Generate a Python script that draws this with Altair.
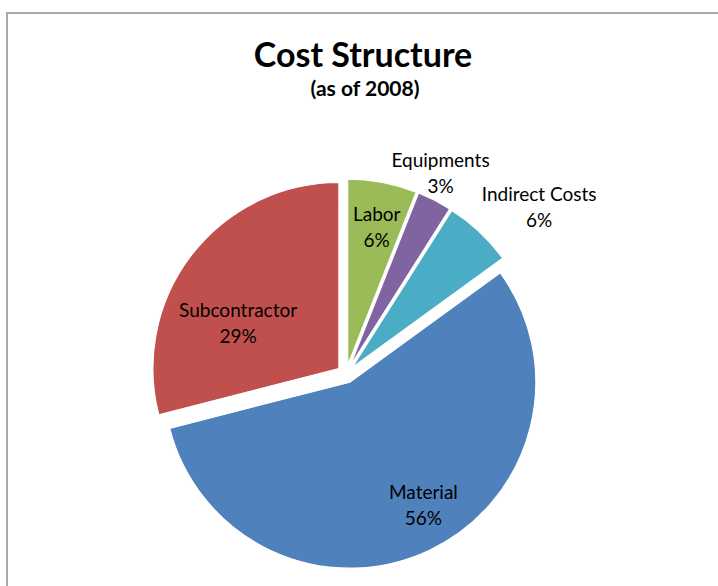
import math
import altair as alt
import pandas as pd

# ---- data ----
categories = ["Labor", "Equipments", "Indirect Costs", "Material", "Subcontractor"]
shares = [6, 3, 6, 56, 29]
colors = ["#9BBB59", "#8064A2", "#4BACC6", "#4F81BD", "#C0504D"]

# ---- layout / style (not data) ----
W, H = 718, 586
CX, CY = 346, 374        # pie centre in px
R = 186                  # pie radius in px
EXPLODE = 9              # explosion distance in px
# Excel "best fit" label placement: distance from slice apex (px) and angular shift (deg)
label_radius = {"Labor": 142, "Equipments": 214, "Indirect Costs": 247,
                "Material": 142, "Subcontractor": 111}
label_shift = {"Labor": 1, "Equipments": -2, "Indirect Costs": 6,
               "Material": -6, "Subcontractor": -13}
FONT = "Lato"
LABEL_LH = 26

df = pd.DataFrame({
    "order": list(range(len(categories))),
    "category": categories,
    "share": shares,
    "label": [f"{c}\n{s}%" for c, s in zip(categories, shares)],
})


def pick(d):
    return " : ".join(f"datum.category == '{k}' ? {v}" for k, v in d.items()) + " : 0"


xs = alt.Scale(domain=[0, W])
ys = alt.Scale(domain=[0, H], reverse=True)

base = (
    alt.Chart(df)
    .transform_joinaggregate(total="sum(share)")
    .transform_window(cum="sum(share)", sort=[alt.SortField("order")], frame=[None, 0])
    .transform_calculate(
        t0="(datum.cum - datum.share) / datum.total",
        t1="datum.cum / datum.total",
    )
    .transform_calculate(mid="PI * (datum.t0 + datum.t1)")
    .transform_calculate(
        cx=f"{CX} + {EXPLODE} * sin(datum.mid)",
        cy=f"{CY} - {EXPLODE} * cos(datum.mid)",
        lr=pick(label_radius),
        ls=pick(label_shift),
    )
    .transform_calculate(
        lx="datum.cx + datum.lr * sin(datum.mid + datum.ls * PI / 180)",
        ly="datum.cy - datum.lr * cos(datum.mid + datum.ls * PI / 180)",
    )
)

arcs = base.mark_arc(radius=R, stroke="white", strokeWidth=1.2).encode(
    x=alt.X("cx:Q", scale=xs, axis=None),
    y=alt.Y("cy:Q", scale=ys, axis=None),
    theta=alt.Theta("t0:Q", scale=alt.Scale(domain=[0, 1], range=[0, 2 * math.pi]), stack=None),
    theta2="t1:Q",
    color=alt.Color("category:N", scale=alt.Scale(domain=categories, range=colors), legend=None),
    order=alt.Order("order:Q"),
)

labels = base.mark_text(
    font=FONT, fontSize=19, lineBreak="\n", lineHeight=LABEL_LH, dy=-11,
    align="center", baseline="middle", color="#000000",
).encode(
    x=alt.X("lx:Q", scale=xs, axis=None),
    y=alt.Y("ly:Q", scale=ys, axis=None),
    text="label:N",
)

title = alt.Chart(pd.DataFrame({"t": ["Cost Structure"]})).mark_text(
    font=FONT, fontSize=34, fontWeight="bold", align="center", baseline="alphabetic", color="#000000"
).encode(x=alt.value(363), y=alt.value(67), text="t:N")

subtitle = alt.Chart(pd.DataFrame({"t": ["(as of 2008)"]})).mark_text(
    font=FONT, fontSize=21, fontWeight="bold", align="center", baseline="alphabetic", color="#000000"
).encode(x=alt.value(365), y=alt.value(96), text="t:N")

border_top = alt.Chart(pd.DataFrame({"a": [0]})).mark_rule(color="#a8a8a8", strokeWidth=2).encode(
    x=alt.value(6), x2=alt.value(W), y=alt.value(13)
)
border_left = alt.Chart(pd.DataFrame({"a": [0]})).mark_rule(color="#a8a8a8", strokeWidth=2).encode(
    x=alt.value(7), y=alt.value(12), y2=alt.value(H)
)

chart = (
    alt.layer(border_top, border_left, arcs, labels, title, subtitle)
    .properties(width=W, height=H, padding=0, autosize=alt.AutoSizeParams(type="none"), background="white")
    .configure_view(stroke=None)
)

chart.save("out.html", embed_options={"renderer": "svg", "actions": False})
